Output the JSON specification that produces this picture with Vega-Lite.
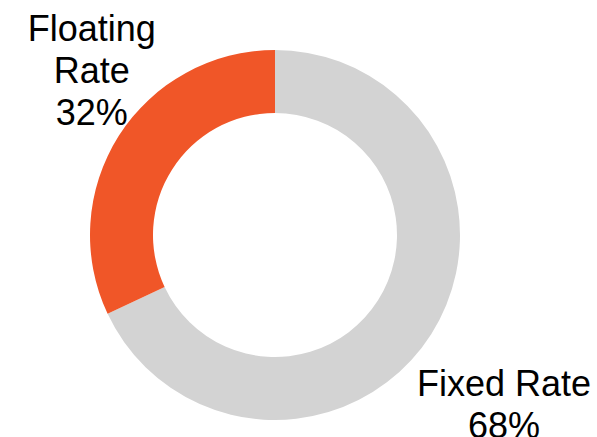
{
  "$schema": "https://vega.github.io/schema/vega-lite/v6.json",
  "width": 400,
  "height": 400,
  "autosize": {"type": "none"},
  "padding": {"left": 75, "top": 35, "right": 122, "bottom": 2},
  "background": "white",
  "view": {"stroke": null},
  "data": {
    "values": [
      {"category": "Fixed Rate", "value": 68, "label": "Fixed Rate\n68%"},
      {"category": "Floating Rate", "value": 32, "label": "Floating\nRate\n32%"}
    ]
  },
  "encoding": {
    "theta": {"field": "value", "type": "quantitative", "stack": true},
    "color": {
      "field": "category",
      "type": "nominal",
      "scale": {"domain": ["Fixed Rate", "Floating Rate"], "range": ["#d3d3d3", "#f05628"]},
      "legend": null
    }
  },
  "layer": [
    {"mark": {"type": "arc", "outerRadius": 185, "innerRadius": 122}},
    {
      "mark": {"type": "text", "radius": 243, "dx": 22, "dy": -75, "font": "Liberation Sans", "fontSize": 36, "lineBreak": "\n", "lineHeight": 42, "align": "center", "baseline": "middle", "color": "black"},
      "encoding": {
        "text": {"condition": {"test": "datum.category === 'Floating Rate'", "field": "label"}, "value": ""},
        "color": {"value": "black"}
      }
    },
    {
      "mark": {"type": "text", "radius": 283, "dx": -10, "dy": -2, "font": "Liberation Sans", "fontSize": 36, "lineBreak": "\n", "lineHeight": 42, "align": "center", "baseline": "middle", "color": "black"},
      "encoding": {
        "text": {"condition": {"test": "datum.category === 'Fixed Rate'", "field": "label"}, "value": ""},
        "color": {"value": "black"}
      }
    }
  ]
}
